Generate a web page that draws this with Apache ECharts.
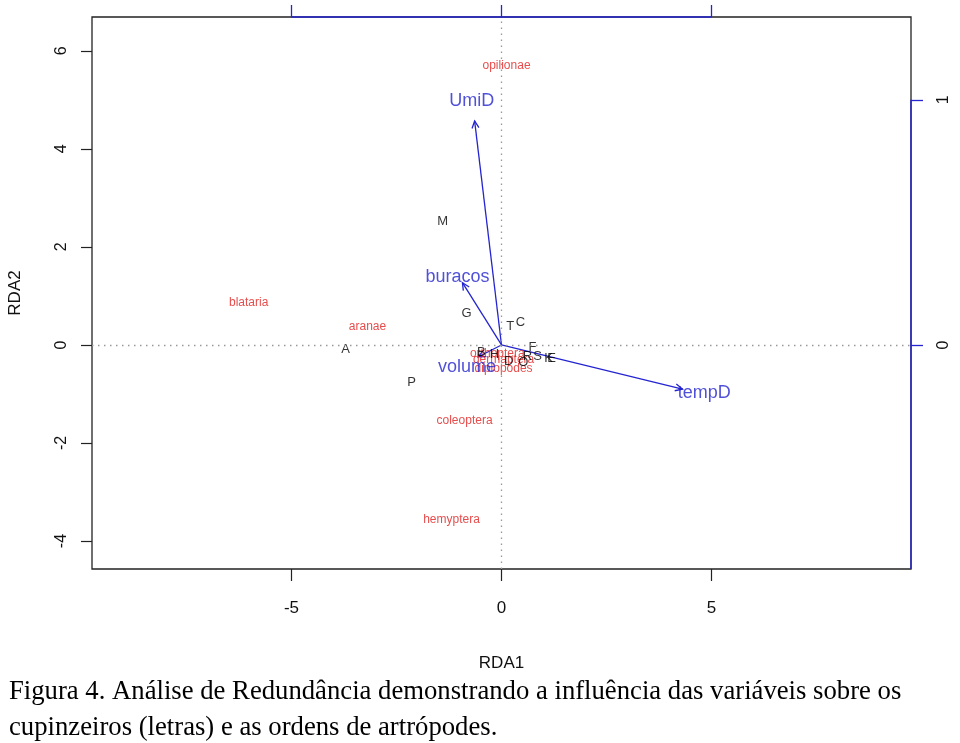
<!DOCTYPE html>
<html>
<head>
<meta charset="utf-8">
<script src="https://cdn.jsdelivr.net/npm/echarts@6/dist/echarts.min.js"></script>
<style>
html,body{margin:0;padding:0;background:#fff;}
#chart{width:960px;height:743px;}
</style>
</head>
<body>
<div id="chart"></div>
<script>
// Sites (cupinzeiros) scores
const siteNames = ['M','G','T','C','A','P','B','H','D','O','F','R','S','K','E'];
const siteX = [-1.40,-0.83,0.21,0.45,-3.71,-2.14,-0.48,-0.17,0.17,0.52,0.74,0.62,0.86,1.12,1.19];
const siteY = [2.51,0.65,0.37,0.45,-0.10,-0.76,-0.16,-0.20,-0.33,-0.35,-0.04,-0.24,-0.24,-0.27,-0.27];

// Species (ordens de artrópodes) scores
const speciesNames = ['opilionae','blataria','aranae','coleoptera','hemyptera','orthoptera','dermaptera','diplopodes'];
const speciesX = [0.12,-6.02,-3.19,-0.88,-1.19,-0.10,0.05,0.05];
const speciesY = [5.69,0.86,0.37,-1.55,-3.57,-0.18,-0.31,-0.49];

// Biplot arrows (environmental variables)
const envNames = ['UmiD','buracos','tempD','volume'];
const envTipX = [-0.64,-0.93,4.31,-0.55];
const envTipY = [4.57,1.27,-0.90,-0.24];
const envLabelX = [-0.71,-1.05,4.83,-0.82];
const envLabelY = [4.98,1.39,-0.98,-0.45];

// Axis ticks
const xTicks = [-5,0,5];
const yTicks = [-4,-2,0,2,4,6];
const topTicks = [-1,0,1];
const rightTicks = [0,1];

const X_MIN = -9.75, X_MAX = 9.75, Y_MIN = -4.57, Y_MAX = 6.69;
const SCALE = 5; // biplot axes scale factor
const BLUE = '#2424d0';
const RED = '#e0201f';
const FONT = 'Liberation Sans, Arial, sans-serif';

const chart = echarts.init(document.getElementById('chart'));

const fmtMinus = v => (v < 0 ? '-' + (-v) : String(v));

const option = {
  animation: false,
  backgroundColor: '#fff',
  title: {
    text: 'Figura 4. Análise de Redundância demonstrando a influência das variáveis sobre os\ncupinzeiros (letras) e as ordens de artrópodes.',
    left: 4, top: 669,
    textStyle: {fontFamily: 'Liberation Serif, Times New Roman, serif', fontSize: 26.7, fontWeight: 'normal', color: '#000', lineHeight: 36}
  },
  grid: {left: 92, right: 49, top: 17, bottom: 174, outerBoundsMode: 'none', containLabel: false,
         show: true, borderColor: '#222', borderWidth: 1.3, backgroundColor: 'transparent'},
  xAxis: [
    {
      type: 'value', position: 'bottom', min: X_MIN, max: X_MAX,
      axisLine: {show: false, onZero: false},
      axisTick: {show: true, length: 12, customValues: xTicks, lineStyle: {color: '#222', width: 1.2}},
      axisLabel: {customValues: xTicks, formatter: fmtMinus, fontFamily: FONT, fontSize: 17, color: '#111', margin: 31},
      splitLine: {show: false},
      name: 'RDA1', nameLocation: 'middle', nameGap: 86,
      nameTextStyle: {fontFamily: FONT, fontSize: 17, color: '#111'}
    },
    {
      type: 'value', position: 'top', min: X_MIN / SCALE, max: X_MAX / SCALE,
      axisLine: {show: false, onZero: false},
      axisTick: {show: true, length: 12, customValues: topTicks, lineStyle: {color: BLUE, width: 1.3}},
      axisLabel: {show: false},
      splitLine: {show: false}
    }
  ],
  yAxis: [
    {
      type: 'value', position: 'left', min: Y_MIN, max: Y_MAX,
      axisLine: {show: false, onZero: false},
      axisTick: {show: true, length: 11, customValues: yTicks, lineStyle: {color: '#222', width: 1.2}},
      axisLabel: {customValues: yTicks, formatter: fmtMinus, rotate: 90, fontFamily: FONT, fontSize: 16, color: '#111', margin: 22},
      splitLine: {show: false},
      name: 'RDA2', nameLocation: 'middle', nameGap: 68,
      nameTextStyle: {fontFamily: FONT, fontSize: 17, color: '#111'}
    },
    {
      type: 'value', position: 'right', min: Y_MIN / SCALE, max: Y_MAX / SCALE,
      axisLine: {show: false, onZero: false},
      axisTick: {show: true, length: 12, customValues: rightTicks, lineStyle: {color: BLUE, width: 1.3}},
      axisLabel: {customValues: rightTicks, rotate: 90, fontFamily: FONT, fontSize: 16, color: '#111', margin: 25},
      splitLine: {show: false}
    }
  ],
  series: [
    // dotted zero lines
    {
      type: 'scatter', xAxisIndex: 0, yAxisIndex: 0, data: [], silent: true,
      markLine: {
        silent: true, symbol: ['none','none'], label: {show: false},
        lineStyle: {color: '#999', type: [1.5, 4.5], width: 1.3},
        data: [{yAxis: 0}, {xAxis: 0}]
      }
    },
    // blue top axis line (biplot scale)
    {
      type: 'line', xAxisIndex: 1, yAxisIndex: 0, clip: false, silent: true, symbol: 'none',
      lineStyle: {color: BLUE, width: 1.4},
      data: [[topTicks[0], Y_MAX], [topTicks[topTicks.length - 1], Y_MAX]]
    },
    // blue right axis line (biplot scale)
    {
      type: 'line', xAxisIndex: 0, yAxisIndex: 1, clip: false, silent: true, symbol: 'none',
      lineStyle: {color: BLUE, width: 1.4},
      data: [[X_MAX, rightTicks[rightTicks.length - 1]], [X_MAX, Y_MIN / SCALE]]
    },
    // arrows
    {
      type: 'custom', xAxisIndex: 0, yAxisIndex: 0, silent: true, clip: false,
      data: envTipX.map((x, i) => [x, envTipY[i]]),
      renderItem: function (params, api) {
        const p0 = api.coord([0, 0]);
        const p1 = api.coord([api.value(0), api.value(1)]);
        const ang = Math.atan2(p1[1] - p0[1], p1[0] - p0[0]);
        const L = 8, a = Math.PI / 7;
        const h1 = [p1[0] - L * Math.cos(ang - a), p1[1] - L * Math.sin(ang - a)];
        const h2 = [p1[0] - L * Math.cos(ang + a), p1[1] - L * Math.sin(ang + a)];
        const st = {stroke: BLUE, lineWidth: 1.3, fill: null};
        return {
          type: 'group',
          children: [
            {type: 'line', shape: {x1: p0[0], y1: p0[1], x2: p1[0], y2: p1[1]}, style: st},
            {type: 'polyline', shape: {points: [h1, p1, h2]}, style: st}
          ]
        };
      }
    },
    // species labels
    {
      type: 'scatter', xAxisIndex: 0, yAxisIndex: 0, silent: true, symbolSize: 1,
      itemStyle: {color: 'rgba(0,0,0,0)'},
      data: speciesNames.map((n, i) => ({name: n, value: [speciesX[i], speciesY[i]]})),
      label: {show: true, position: 'inside', formatter: '{b}', fontFamily: FONT, fontSize: 12, color: RED}
    },
    // site labels
    {
      type: 'scatter', xAxisIndex: 0, yAxisIndex: 0, silent: true, symbolSize: 1,
      itemStyle: {color: 'rgba(0,0,0,0)'},
      data: siteNames.map((n, i) => ({name: n, value: [siteX[i], siteY[i]]})),
      label: {show: true, position: 'inside', formatter: '{b}', fontFamily: FONT, fontSize: 13, color: '#000'}
    },
    // env labels
    {
      type: 'scatter', xAxisIndex: 0, yAxisIndex: 0, silent: true, symbolSize: 1,
      itemStyle: {color: 'rgba(0,0,0,0)'},
      data: envNames.map((n, i) => ({name: n, value: [envLabelX[i], envLabelY[i]]})),
      label: {show: true, position: 'inside', formatter: '{b}', fontFamily: FONT, fontSize: 18, color: BLUE}
    }
  ]
};
chart.setOption(option);
</script>
</body>
</html>
